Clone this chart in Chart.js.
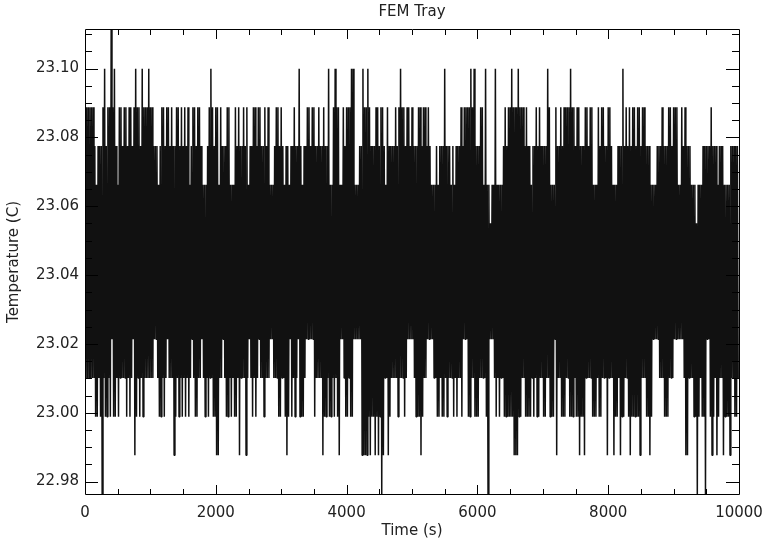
<!DOCTYPE html>
<html>
<head>
<meta charset="utf-8">
<script src="https://cdn.jsdelivr.net/npm/chart.js@4.4.0/dist/chart.umd.min.js"></script>
<style>
  html, body { margin: 0; padding: 0; background: #fff; }
</style>
</head>
<body>
<canvas id="femChart" width="768" height="547"></canvas>
<script>
// sensor is quantised: reading = levelBase + level * levelStep
var levelBase = 22.9764;
var levelStep = 0.011233;
var windowSec = 25;

// highest and lowest level seen in each 25 s window (hex digit = level index)
var windowMax = [
  "AAAAAA9899 9AB9AACAB9 8AA9AA9AA9 ABAA9BAAAB AA99989AA9",
  "AA9A99AA9A 9A9A89AA9A A98889ABA9 AA8A999AA8 88A9A99A9A",
  "899AA9AA99 A9A8889AA9 A9899899A9 9B9899AA9A A99A99A99B",
  "88ABAA88A9 AAABB88899 BAABA999AA 9AA98A9999 A9ABAA9AA9",
  "A999AA9AA9 A988898999 B999898999 A9AAAABAB9 99AA8B8878",
  "8B88889A9A ABAAABAAA9 A99899A9A9 999BA888A9 9A9AAAABAA",
  "9AA999AA9A A888A9AA99 AA9888999B 9A9A9AA9AA 9AA9998888",
  "999A999AA9 AAA88A9A99 9888788899 999A999899 9888899999"
].join("").replace(/\s/g, "");
var windowMin = [
  "3333332232 0322324223 2333323234 1232323333 3344322323",
  "4333123232 3232343223 3432323322 1133432232 3223133313",
  "4323234332 3334433322 3321242323 4222344444 2333312232",
  "2323214432 2322444441 1112122121 2013312333 3233323444",
  "4322212334 4443322322 3233323233 2444223322 2333320444",
  "3232332222 2211122332 2223232233 2233222413 3222332223",
  "2212213333 2223223331 3331223122 3321222221 3332212444",
  "4333222333 4444443113 3322023220 4421231233 1222133223"
].join("").replace(/\s/g, "");

var xTicks = [0, 2000, 4000, 6000, 8000, 10000];
var yTicks = [22.98, 23.00, 23.02, 23.04, 23.06, 23.08, 23.10];
var xRange = [0, 10000];
var yRange = [22.9764, 23.1112];

var points = [];
for (var i = 0; i < windowMax.length; i++) {
  var t = i * windowSec;
  points.push({ x: t, y: levelBase + parseInt(windowMax[i], 16) * levelStep });
  points.push({ x: t + windowSec / 2, y: levelBase + parseInt(windowMin[i], 16) * levelStep });
}

var textColor = '#222';
var font = { family: 'DejaVu Sans', size: 15 };

// IDL style box with inward ticks on all four sides + title over the plot
var boxTicks = {
  id: 'boxTicks',
  afterDraw: function (chart) {
    var c = chart.ctx, a = chart.chartArea;
    var xs = chart.scales.x, ys = chart.scales.y;
    c.save();
    c.strokeStyle = '#000';
    c.lineWidth = 1;
    c.beginPath();
    c.rect(a.left + 0.5, a.top - 0.5, a.right - a.left, a.bottom - a.top + 1);
    var v, p, len;
    for (v = xRange[0]; v <= xRange[1]; v += 500) {
      p = Math.round(xs.getPixelForValue(v)) + 0.5;
      len = v % 2000 === 0 ? 9 : 5;
      c.moveTo(p, a.bottom); c.lineTo(p, a.bottom - len);
      c.moveTo(p, a.top); c.lineTo(p, a.top + len);
    }
    for (var k = 0; k < 40; k++) {
      v = 22.98 + k * 0.005;
      if (v > yRange[1]) break;
      p = Math.round(ys.getPixelForValue(v)) + 0.5;
      len = k % 4 === 0 ? 13 : 7;
      c.moveTo(a.left, p); c.lineTo(a.left + len, p);
      c.moveTo(a.right, p); c.lineTo(a.right - len, p);
    }
    c.stroke();
    c.fillStyle = textColor;
    c.font = font.size + 'px "' + font.family + '"';
    c.textAlign = 'center';
    c.textBaseline = 'middle';
    c.fillText('FEM Tray', (a.left + a.right) / 2, 12);
    c.restore();
  }
};

new Chart(document.getElementById('femChart'), {
  type: 'line',
  data: {
    datasets: [{
      data: points,
      borderColor: '#111',
      borderWidth: 1.5,
      borderJoinStyle: 'bevel',
      pointRadius: 0,
      tension: 0,
      fill: false
    }]
  },
  options: {
    responsive: false,
    animation: false,
    events: [],
    layout: { padding: { left: 0, right: 29, top: 30, bottom: 0 } },
    plugins: {
      legend: { display: false },
      tooltip: { enabled: false },
      title: { display: false }
    },
    scales: {
      x: {
        type: 'linear',
        min: xRange[0],
        max: xRange[1],
        grid: { display: false, drawTicks: false },
        border: { display: false },
        afterBuildTicks: function (s) { s.ticks = xTicks.map(function (v) { return { value: v }; }); },
        afterFit: function (s) { s.height = 53; s.paddingLeft = 0; s.paddingRight = 0; },
        ticks: { padding: 10, maxRotation: 0, autoSkip: false, color: textColor, font: font,
                 callback: function (v) { return String(v); } },
        title: { display: true, text: 'Time (s)', color: textColor, font: font, padding: { top: 0, bottom: 7 } }
      },
      y: {
        type: 'linear',
        min: yRange[0],
        max: yRange[1],
        grid: { display: false, drawTicks: false },
        border: { display: false },
        afterBuildTicks: function (s) { s.ticks = yTicks.map(function (v) { return { value: v }; }); },
        afterFit: function (s) { s.width = 85; s.paddingTop = 0; s.paddingBottom = 0; },
        ticks: { padding: 6, autoSkip: false, color: textColor, font: font,
                 callback: function (v) { return v.toFixed(2); } },
        title: { display: true, text: 'Temperature (C)', color: textColor, font: font, padding: { top: 5, bottom: 0 } }
      }
    }
  },
  plugins: [boxTicks]
});
</script>
</body>
</html>
